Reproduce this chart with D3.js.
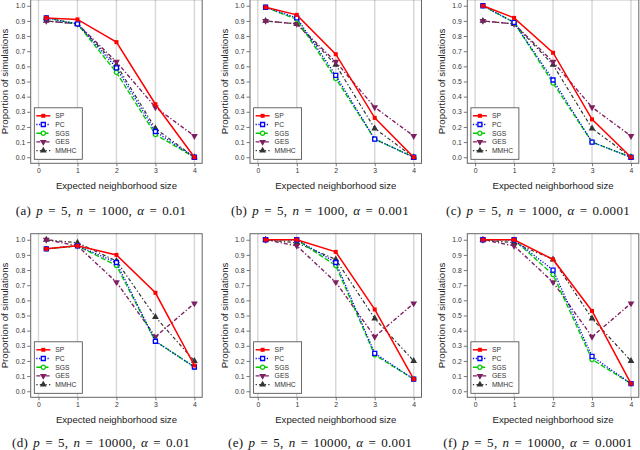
<!DOCTYPE html>
<html>
<head>
<meta charset="utf-8">
<script src="https://cdn.jsdelivr.net/npm/d3@7"></script>
<style>
body { margin: 0; background: #fff; }
svg { display: block; font-family: 'Liberation Sans', Arial, sans-serif; }
</style>
</head>
<body>
<svg id="chart" width="640" height="450"></svg>
<script>
'use strict';

const xValues = [0.2, 1, 2, 3, 4];
const xTicks = [0, 1, 2, 3, 4];
const yTicks = [0, 0.1, 0.2, 0.3, 0.4, 0.5, 0.6, 0.7, 0.8, 0.9, 1.0];
const yTickLabels = ['0.0', '0.1', '0.2', '0.3', '0.4', '0.5', '0.6', '0.7', '0.8', '0.9', '1.0'];
const methods = ['SP', 'PC', 'SGS', 'GES', 'MMHC'];

// one row per method, same order as methods
const panelA = [
    [0.92, 0.91, 0.76, 0.35, 0.00],
    [0.92, 0.88, 0.59, 0.17, 0.00],
    [0.92, 0.88, 0.56, 0.15, 0.00],
    [0.90, 0.88, 0.63, 0.33, 0.14],
    [0.90, 0.88, 0.61, 0.19, 0.00]
];
const panelB = [
    [0.99, 0.94, 0.68, 0.26, 0.00],
    [0.99, 0.92, 0.54, 0.12, 0.00],
    [0.99, 0.91, 0.52, 0.12, 0.00],
    [0.90, 0.88, 0.63, 0.33, 0.14],
    [0.90, 0.88, 0.61, 0.19, 0.00]
];
const panelC = [
    [1.00, 0.92, 0.69, 0.25, 0.00],
    [1.00, 0.89, 0.51, 0.10, 0.00],
    [1.00, 0.89, 0.49, 0.10, 0.00],
    [0.90, 0.88, 0.63, 0.33, 0.14],
    [0.90, 0.88, 0.61, 0.19, 0.00]
];
const panelD = [
    [0.94, 0.96, 0.90, 0.65, 0.17],
    [0.94, 0.96, 0.85, 0.33, 0.16],
    [0.94, 0.96, 0.83, 0.33, 0.16],
    [1.00, 0.96, 0.72, 0.36, 0.58],
    [1.00, 0.98, 0.86, 0.49, 0.20]
];
const panelE = [
    [1.00, 1.00, 0.92, 0.54, 0.08],
    [1.00, 1.00, 0.85, 0.25, 0.08],
    [1.00, 1.00, 0.83, 0.24, 0.08],
    [1.00, 0.96, 0.72, 0.36, 0.58],
    [1.00, 0.98, 0.87, 0.48, 0.20]
];
const panelF = [
    [1.00, 1.00, 0.87, 0.53, 0.05],
    [1.00, 1.00, 0.80, 0.23, 0.05],
    [1.00, 1.00, 0.77, 0.21, 0.05],
    [1.00, 0.96, 0.72, 0.36, 0.58],
    [1.00, 0.98, 0.87, 0.48, 0.20]
];

const panelLetters = ['a', 'b', 'c', 'd', 'e', 'f'];
const pValues = ['5', '5', '5', '5', '5', '5'];
const nValues = ['1000', '1000', '1000', '10000', '10000', '10000'];
const alphaValues = ['0.01', '0.001', '0.0001', '0.01', '0.001', '0.0001'];

const styles = {
    SP:   { color: '#ff0000', dash: null,              width: 1.5, shape: 'square',  open: false },
    PC:   { color: '#0000ff', dash: '1.2,1.6',         width: 1.3, shape: 'square',  open: true },
    SGS:  { color: '#00cc00', dash: '5,2.2',           width: 1.4, shape: 'circle',  open: true },
    GES:  { color: '#7e1f62', dash: '4,2,1.3,2',       width: 1.4, shape: 'triDown', open: false },
    MMHC: { color: '#333333', dash: '1.3,2.2,3.5,2.2', width: 1.2, shape: 'triUp',   open: false }
};

const svg = d3.select('#chart');
const panels = [panelA, panelB, panelC, panelD, panelE, panelF];
const colLeft = [30.7, 250, 467.3];
const colWidth = 171.5;
const captionX = [101, 320, 538];
const rowTop = [-0.3, 233.7];
const captionGap = [47.5, 45.8];
const boxHeight = 163.6;

function markerPath(shape) {
    if (shape === 'square') return d3.symbol(d3.symbolSquare, 16)();
    if (shape === 'circle') return d3.symbol(d3.symbolCircle, 14)();
    return d3.symbol(d3.symbolTriangle, 20)();
}

function drawMarker(g, method, x, y) {
    const st = styles[method];
    const m = g.append('path')
        .attr('d', markerPath(st.shape))
        .attr('transform', 'translate(' + x + ',' + y + ')' + (st.shape === 'triDown' ? ' rotate(180)' : ''));
    if (st.open) {
        m.attr('fill', '#fff').attr('stroke', st.color).attr('stroke-width', 1.3);
    } else {
        m.attr('fill', st.color);
    }
}

function drawPanel(idx) {
    const col = idx % 3;
    const row = Math.floor(idx / 3);
    const left = colLeft[col];
    const top = rowTop[row];
    const bottom = top + boxHeight;
    const data = panels[idx];
    const g = svg.append('g');

    const x = d3.scaleLinear().domain([-0.2, 4.2]).range([left, left + colWidth]);
    const y = d3.scaleLinear().domain([-0.04, 1.04]).range([bottom, top]);

    // vertical grid lines
    g.append('g').selectAll('line')
        .data(xTicks)
        .join('line')
        .attr('x1', d => x(d)).attr('x2', d => x(d))
        .attr('y1', top).attr('y2', bottom)
        .attr('stroke', '#d6d6d6')
        .attr('stroke-width', 1.4);

    const yAxis = d3.axisLeft(y)
        .tickValues(yTicks)
        .tickSize(3.5)
        .tickPadding(2)
        .tickFormat((d, i) => yTickLabels[i]);
    const ya = g.append('g')
        .attr('transform', 'translate(' + left + ',0)')
        .call(yAxis);

    const xAxis = d3.axisBottom(x)
        .tickValues(xTicks)
        .tickSize(3)
        .tickPadding(2)
        .tickFormat(d3.format('d'));
    const xa = g.append('g')
        .attr('transform', 'translate(0,' + bottom + ')')
        .call(xAxis);

    [ya, xa].forEach(function(a) {
        a.select('.domain').remove();
        a.selectAll('.tick line').attr('stroke', '#555').attr('stroke-width', 0.8);
        a.selectAll('.tick text')
            .attr('fill', '#333')
            .attr('font-size', '6.8px')
            .attr('font-family', "'Liberation Sans', Arial, sans-serif");
    });

    // plot box
    g.append('rect')
        .attr('x', left).attr('y', top)
        .attr('width', colWidth).attr('height', boxHeight)
        .attr('fill', 'none')
        .attr('stroke', '#666')
        .attr('stroke-width', 1);

    // series, drawn so SP ends on top
    const line = d3.line()
        .x((d, i) => x(xValues[i]))
        .y(d => y(d));

    for (let k = methods.length - 1; k >= 0; k--) {
        const method = methods[k];
        const st = styles[method];
        g.append('path')
            .datum(data[k])
            .attr('d', line)
            .attr('fill', 'none')
            .attr('stroke', st.color)
            .attr('stroke-width', st.width)
            .attr('stroke-dasharray', st.dash);
        data[k].forEach(function(v, i) {
            drawMarker(g, method, x(xValues[i]), y(v));
        });
    }

    // legend
    const lw = 48, lh = 51.5;
    const lg = g.append('g')
        .attr('transform', 'translate(' + (left + 3.6) + ',' + (bottom - 4 - lh) + ')');
    lg.append('rect')
        .attr('width', lw).attr('height', lh)
        .attr('fill', '#fff')
        .attr('stroke', '#444')
        .attr('stroke-width', 0.8);
    methods.forEach(function(method, i) {
        const st = styles[method];
        const ly = 8 + i * 8.7;
        lg.append('line')
            .attr('x1', 2).attr('x2', 16)
            .attr('y1', ly).attr('y2', ly)
            .attr('stroke', st.color)
            .attr('stroke-width', st.width)
            .attr('stroke-dasharray', st.dash);
        drawMarker(lg, method, 9, ly);
        lg.append('text')
            .attr('x', 21).attr('y', ly)
            .attr('dy', '0.35em')
            .attr('font-size', '6.8px')
            .attr('fill', '#333')
            .text(method);
    });

    // axis titles
    g.append('text')
        .attr('transform', 'translate(' + (left - 25.7) + ',' + ((top + bottom) / 2) + ') rotate(-90)')
        .attr('text-anchor', 'middle')
        .attr('dy', '0.35em')
        .attr('font-size', '9.6px')
        .attr('fill', '#222')
        .text('Proportion of simulations');

    g.append('text')
        .attr('x', left + colWidth / 2)
        .attr('y', bottom + 22)
        .attr('text-anchor', 'middle')
        .attr('dy', '0.35em')
        .attr('font-size', '9.6px')
        .attr('fill', '#222')
        .text('Expected neighborhood size');

    // caption
    const cap = svg.append('text')
        .attr('x', captionX[col])
        .attr('y', bottom + captionGap[row])
        .attr('dy', '0.33em')
        .attr('text-anchor', 'middle')
        .attr('font-family', "'Liberation Serif', 'Times New Roman', serif")
        .attr('font-size', '13px')
        .attr('letter-spacing', '0.3px')
        .attr('word-spacing', '1.6px')
        .attr('fill', '#111');
    cap.append('tspan').text('(' + panelLetters[idx] + ') ');
    cap.append('tspan').attr('font-style', 'italic').text('p');
    cap.append('tspan').text(' = ' + pValues[idx] + ', ');
    cap.append('tspan').attr('font-style', 'italic').text('n');
    cap.append('tspan').text(' = ' + nValues[idx] + ', ');
    cap.append('tspan').attr('font-style', 'italic').text('α');
    cap.append('tspan').text(' = ' + alphaValues[idx]);
}

for (let i = 0; i < panels.length; i++) {
    drawPanel(i);
}
</script>
</body>
</html>
